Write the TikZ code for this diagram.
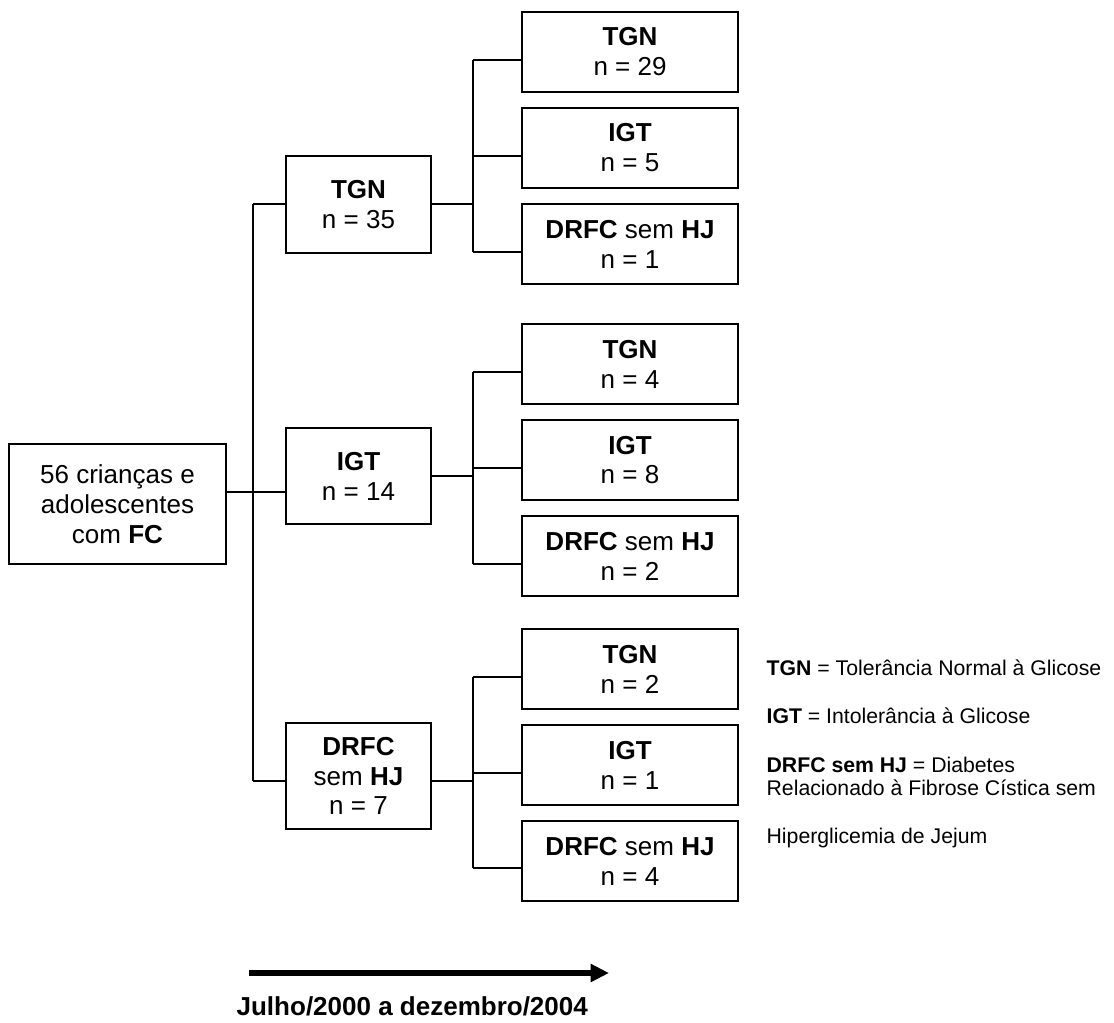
\documentclass[tikz,border=0pt]{standalone}
\usepackage{fontspec}
\setmainfont{Liberation Sans}
\usetikzlibrary{arrows.meta}

\begin{document}
\begin{tikzpicture}[x=0.4615pt,y=-0.4615pt,line width=0.6pt]
  \tikzstyle{box}=[draw,rectangle,inner sep=0pt,align=center,font=\fontsize{12}{13.8}\selectfont]
  \tikzstyle{leaf}=[box,minimum width=99.7pt,minimum height=36.9pt]
  \tikzstyle{mid}=[box,minimum width=66.9pt]
  \tikzstyle{legend}=[anchor=base west,inner sep=0pt,font=\fontsize{9.8}{11}\selectfont]
  \useasboundingbox (0,0) rectangle (1114,1023);

  \node[box,minimum width=100.1pt,minimum height=55.4pt] (FC) at (117.5,504) {56 crianças e\\adolescentes\\com \textbf{FC}};

  \node[mid,minimum height=44.8pt] (M_1) at (358.5,204.5) {\textbf{TGN}\\n = 35};
  \node[mid,minimum height=44.3pt] (M_2) at (358.5,476) {\textbf{IGT}\\n = 14};
  \node[mid,minimum height=48.9pt] (M_3) at (358.5,776) {\textbf{DRFC}\\sem \textbf{HJ}\\n = 7};

  \node[leaf] (R_1) at (630,52)  {\textbf{TGN}\\n = 29};
  \node[leaf] (R_2) at (630,148) {\textbf{IGT}\\n = 5};
  \node[leaf] (R_3) at (630,244) {\textbf{DRFC} sem \textbf{HJ}\\n = 1};

  \node[leaf] (R_4) at (630,364) {\textbf{TGN}\\n = 4};
  \node[leaf] (R_5) at (630,460) {\textbf{IGT}\\n = 8};
  \node[leaf] (R_6) at (630,556) {\textbf{DRFC} sem \textbf{HJ}\\n = 2};

  \node[leaf] (R_7) at (630,669) {\textbf{TGN}\\n = 2};
  \node[leaf] (R_8) at (630,765) {\textbf{IGT}\\n = 1};
  \node[leaf] (R_9) at (630,861) {\textbf{DRFC} sem \textbf{HJ}\\n = 4};

  % junctions
  \coordinate (J_1) at (253,204);
  \coordinate (J_2) at (253,492);
  \coordinate (J_3) at (253,781);

  \coordinate (K_1) at (473,60);
  \coordinate (K_2) at (473,156);
  \coordinate (K_3) at (473,252);
  \coordinate (K_4) at (473,372);
  \coordinate (K_5) at (473,468);
  \coordinate (K_6) at (473,564);
  \coordinate (K_7) at (473,677);
  \coordinate (K_8) at (473,773);
  \coordinate (K_9) at (473,868);

  \draw (FC.east |- J_2) -- (J_2);
  \draw (J_1) -- (J_3);
  \draw (J_1) -- (M_1.west |- J_1);
  \draw (J_2) -- (M_2.west |- J_2);
  \draw (J_3) -- (M_3.west |- J_3);

  \draw (M_1.east |- J_1) -- (K_1 |- J_1);
  \draw (K_1) -- (K_3);
  \draw (K_1) -- (R_1.west |- K_1);
  \draw (K_2) -- (R_2.west |- K_2);
  \draw (K_3) -- (R_3.west |- K_3);

  \draw (M_2.east) -- (K_4 |- M_2.east);
  \draw (K_4) -- (K_6);
  \draw (K_4) -- (R_4.west |- K_4);
  \draw (K_5) -- (R_5.west |- K_5);
  \draw (K_6) -- (R_6.west |- K_6);

  \draw (M_3.east |- J_3) -- (K_7 |- J_3);
  \draw (K_7) -- (K_9);
  \draw (K_7) -- (R_7.west |- K_7);
  \draw (K_8) -- (R_8.west |- K_8);
  \draw (K_9) -- (R_9.west |- K_9);

  % legend
  \node[legend] (L_1) at (766,675) {\textbf{TGN} = Tolerância Normal à Glicose};
  \node[legend] (L_2) at (766,723) {\textbf{IGT} = Intolerância à Glicose};
  \node[legend] (L_3) at (766,772) {\textbf{DRFC sem HJ} = Diabetes};
  \node[legend] (L_4) at (766,795) {Relacionado à Fibrose Cística sem};
  \node[legend] (L_5) at (766,843) {Hiperglicemia de Jejum};

  % time arrow
  \coordinate (T_0) at (249,973);
  \coordinate (T_1) at (609,973);
  \draw[line width=3pt,-{Triangle[length=8.5pt,width=8pt]}] (T_0) -- (T_1);
  \node[anchor=base west,inner sep=0pt,font=\fontsize{12}{14}\selectfont\bfseries] (P) at (236,1015) {Julho/2000 a dezembro/2004};
\end{tikzpicture}
\end{document}
